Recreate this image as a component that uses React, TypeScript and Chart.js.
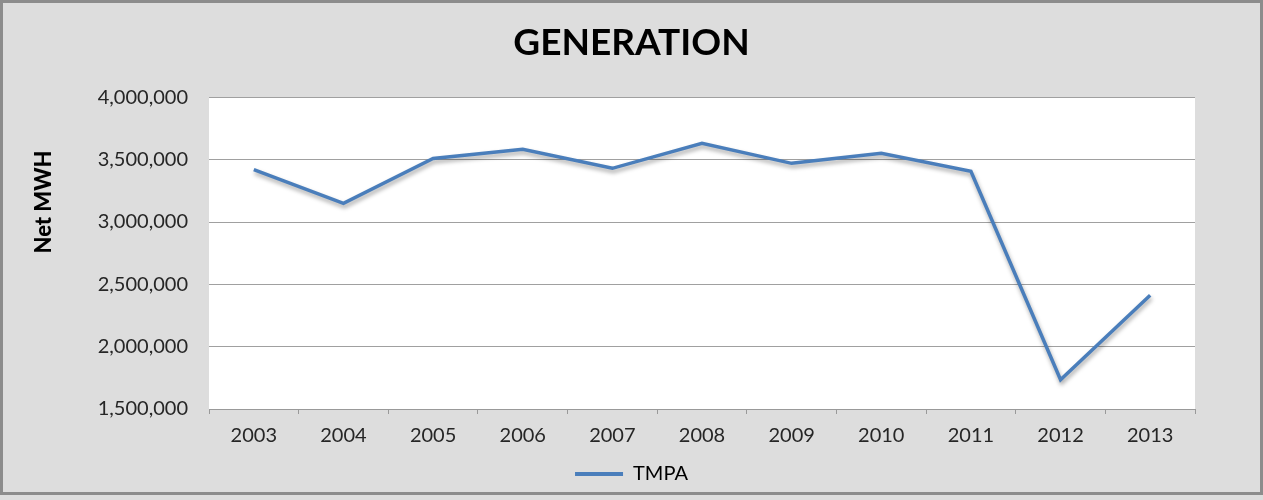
import React, { useEffect, useRef } from "react";
import { Chart, registerables } from "chart.js";

Chart.register(...registerables);

const years = ["2003", "2004", "2005", "2006", "2007", "2008", "2009", "2010", "2011", "2012", "2013"];
const tmpa = [3420000, 3150000, 3510000, 3583000, 3431000, 3631000, 3471000, 3551000, 3407000, 1735000, 2413000];
const seriesName = "TMPA";
const chartTitle = "GENERATION";
const yTitle = "Net MWH";
const yMin = 1500000;
const yMax = 4000000;
const yStep = 500000;

const FONT = "Lato, 'Open Sans', sans-serif";

export default function App() {
  const ref = useRef<HTMLCanvasElement | null>(null);

  useEffect(() => {
    const canvas = ref.current;
    if (!canvas) return;

    const bgPlugin = {
      id: "bgPlugin",
      beforeDraw(chart: any) {
        const { ctx, chartArea } = chart;
        ctx.save();
        ctx.fillStyle = "#dddddd";
        ctx.fillRect(0, 0, chart.width, chart.height);
        ctx.strokeStyle = "#8c8c8c";
        ctx.lineWidth = 3;
        ctx.strokeRect(1.5, 1.5, chart.width - 3, 492);
        ctx.fillStyle = "#ffffff";
        ctx.fillRect(chartArea.left, chartArea.top, chartArea.right - chartArea.left, chartArea.bottom - chartArea.top);
        ctx.restore();
      },
      afterDraw(chart: any) {
        const { ctx } = chart;
        ctx.save();
        ctx.translate(44, 202);
        ctx.rotate(-Math.PI / 2);
        ctx.fillStyle = "#000000";
        ctx.font = `900 22px ${FONT}`;
        ctx.textAlign = "center";
        ctx.textBaseline = "middle";
        ctx.fillText(yTitle, 0, 0);
        ctx.restore();
      },
    };

    const shadowPlugin = {
      id: "shadowPlugin",
      beforeDatasetsDraw(chart: any) {
        const ctx = chart.ctx;
        ctx.save();
        ctx.shadowColor = "rgba(0,0,0,0.35)";
        ctx.shadowBlur = 4;
        ctx.shadowOffsetX = 1;
        ctx.shadowOffsetY = 3;
      },
      afterDatasetsDraw(chart: any) {
        chart.ctx.restore();
      },
    };

    const chart = new Chart(canvas, {
      type: "line",
      data: {
        labels: years,
        datasets: [
          {
            label: seriesName,
            data: tmpa,
            borderColor: "#4a7ebb",
            backgroundColor: "#4a7ebb",
            borderWidth: 3.5,
            pointRadius: 0,
            tension: 0,
            fill: false,
            yAxisID: "y",
          },
        ],
      },
      options: {
        responsive: false,
        animation: false,
        layout: { padding: { left: 0, right: 0, top: 0, bottom: 6 } },
        plugins: {
          title: {
            display: true,
            text: chartTitle,
            color: "#000000",
            font: { family: FONT, size: 37, weight: "bold" },
            padding: { top: 21, bottom: 32 },
          },
          legend: {
            display: true,
            position: "bottom",
            labels: {
              color: "#262626",
              font: { family: FONT, size: 20 },
              boxWidth: 48,
              boxHeight: 4,
              padding: 10,
              generateLabels: () => [
                {
                  text: seriesName,
                  fillStyle: "#4a7ebb",
                  strokeStyle: "#4a7ebb",
                  lineWidth: 0,
                  hidden: false,
                  datasetIndex: 0,
                } as any,
              ],
            },
          },
          tooltip: { enabled: false },
        },
        scales: {
          x: {
            offset: true,
            grid: {
              offset: true,
              drawOnChartArea: false,
              drawTicks: true,
              tickLength: 5,
              color: "#999999",
            },
            border: { display: true, color: "#999999" },
            ticks: {
              color: "#262626",
              font: { family: FONT, size: 20 },
              padding: 10,
              maxRotation: 0,
            },
            afterFit: (s: any) => {
              s.height = 45;
            },
          },
          y: {
            min: yMin,
            max: yMax,
            grid: { color: "#a0a0a0", drawTicks: false },
            border: { display: false },
            ticks: {
              stepSize: yStep,
              color: "#262626",
              font: { family: FONT, size: 20 },
              padding: 21,
              callback: (v: any) => Number(v).toLocaleString("en-US"),
            },
            afterFit: (s: any) => {
              s.width = 209;
            },
          },
          yRight: {
            type: "linear",
            position: "right",
            display: true,
            grid: { drawOnChartArea: false, drawTicks: false },
            border: { display: false },
            ticks: { display: false },
            afterFit: (s: any) => {
              s.width = 68;
            },
          },
        },
      },
      plugins: [bgPlugin, shadowPlugin],
    });

    return () => chart.destroy();
  }, []);

  return (
    <div style={{ position: "fixed", left: 0, top: 0, width: 1263, height: 500 }}>
      <canvas ref={ref} width={1263} height={500} style={{ display: "block" }} />
    </div>
  );
}
